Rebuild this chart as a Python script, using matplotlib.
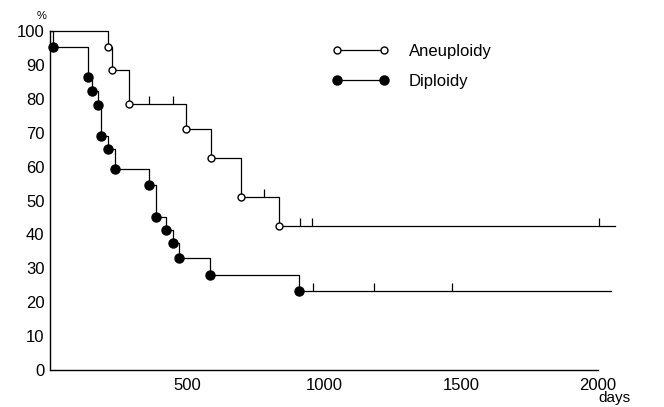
import numpy as np
import matplotlib
matplotlib.use("Agg")
import matplotlib.pyplot as plt
from matplotlib.path import Path

plt.rcParams['font.family'] = ['Liberation Sans', 'DejaVu Sans']

# Kaplan-Meier readings (days, survival %)
aneu_event_days = [212, 226, 288, 496, 588, 697, 836]
aneu_event_surv = [95.4, 88.5, 78.4, 71.2, 62.4, 51.1, 42.5]
aneu_censor_days = [361, 449, 781, 912, 956, 2004]
aneu_end_day = 2062

dipl_event_days = [11, 140, 153, 174, 185, 212, 238, 362, 386, 423, 449, 470, 585, 910]
dipl_event_surv = [95.2, 86.3, 82.3, 78.2, 69.0, 65.2, 59.2, 54.5, 45.0, 41.3, 37.4, 33.1, 28.0, 23.2]
dipl_censor_days = [959, 1181, 1468]
dipl_end_day = 2047

y_ticks = list(range(0, 101, 10))
x_ticks = [500, 1000, 1500, 2000]


def km_curve(days, surv, end):
    t = [0] + list(days) + [end]
    s = [100] + list(surv) + [surv[-1]]
    return np.array(t), np.array(s)


def surv_at(days, surv, t):
    s = 100.0
    for d, v in zip(days, surv):
        if d <= t:
            s = v
    return s


censor_mark = Path([(0, 0), (0, 1)])

fig = plt.figure(figsize=(6.64, 4.07), dpi=100)
ax = fig.add_axes([0.0753, 0.0909, 0.854, 0.8329])

lw = 0.9
for days, surv, end, cens, face, ms in [
    (aneu_event_days, aneu_event_surv, aneu_end_day, aneu_censor_days, 'white', 5),
    (dipl_event_days, dipl_event_surv, dipl_end_day, dipl_censor_days, 'black', 6.5),
]:
    t, s = km_curve(days, surv, end)
    ax.step(t, s, where='post', color='black', lw=lw, clip_on=False)
    ax.plot(days, surv, 'o', ms=ms, mfc=face, mec='black', mew=1.0, clip_on=False, zorder=3)
    cs = [surv_at(days, surv, c) for c in cens]
    ax.plot(cens, cs, linestyle='none', marker=censor_mark, ms=11, mec='black', mew=lw)

# legend
ax.legend(
    handles=[
        plt.Line2D([], [], color='black', lw=lw, marker='o', ms=5, mfc='white', mec='black'),
        plt.Line2D([], [], color='black', lw=lw, marker='o', ms=6.5, mfc='black', mec='black'),
    ],
    labels=['Aneuploidy', 'Diploidy'],
    numpoints=2, handlelength=3.45, handletextpad=1.2, labelspacing=0.9,
    frameon=False, fontsize=12, loc='upper left', bbox_to_anchor=(0.47, 1.007),
)

ax.set_xlim(0, 2070)
ax.set_ylim(0, 100)
ax.set_xticks(x_ticks)
ax.set_yticks(y_ticks)
ax.tick_params(length=0, labelsize=12)
ax.tick_params(axis='y', pad=4)
ax.tick_params(axis='x', pad=6)
for sp in ['top', 'right']:
    ax.spines[sp].set_visible(False)
ax.spines['bottom'].set_bounds(0, 2000)
ax.spines['left'].set_linewidth(1.0)
ax.spines['bottom'].set_linewidth(1.0)

fig.text(0.062, 0.96, '%', fontsize=8, ha='center', va='center')
fig.text(0.926, 0.022, 'days', fontsize=11, ha='center', va='center')

fig.savefig('out.png', dpi=100)
